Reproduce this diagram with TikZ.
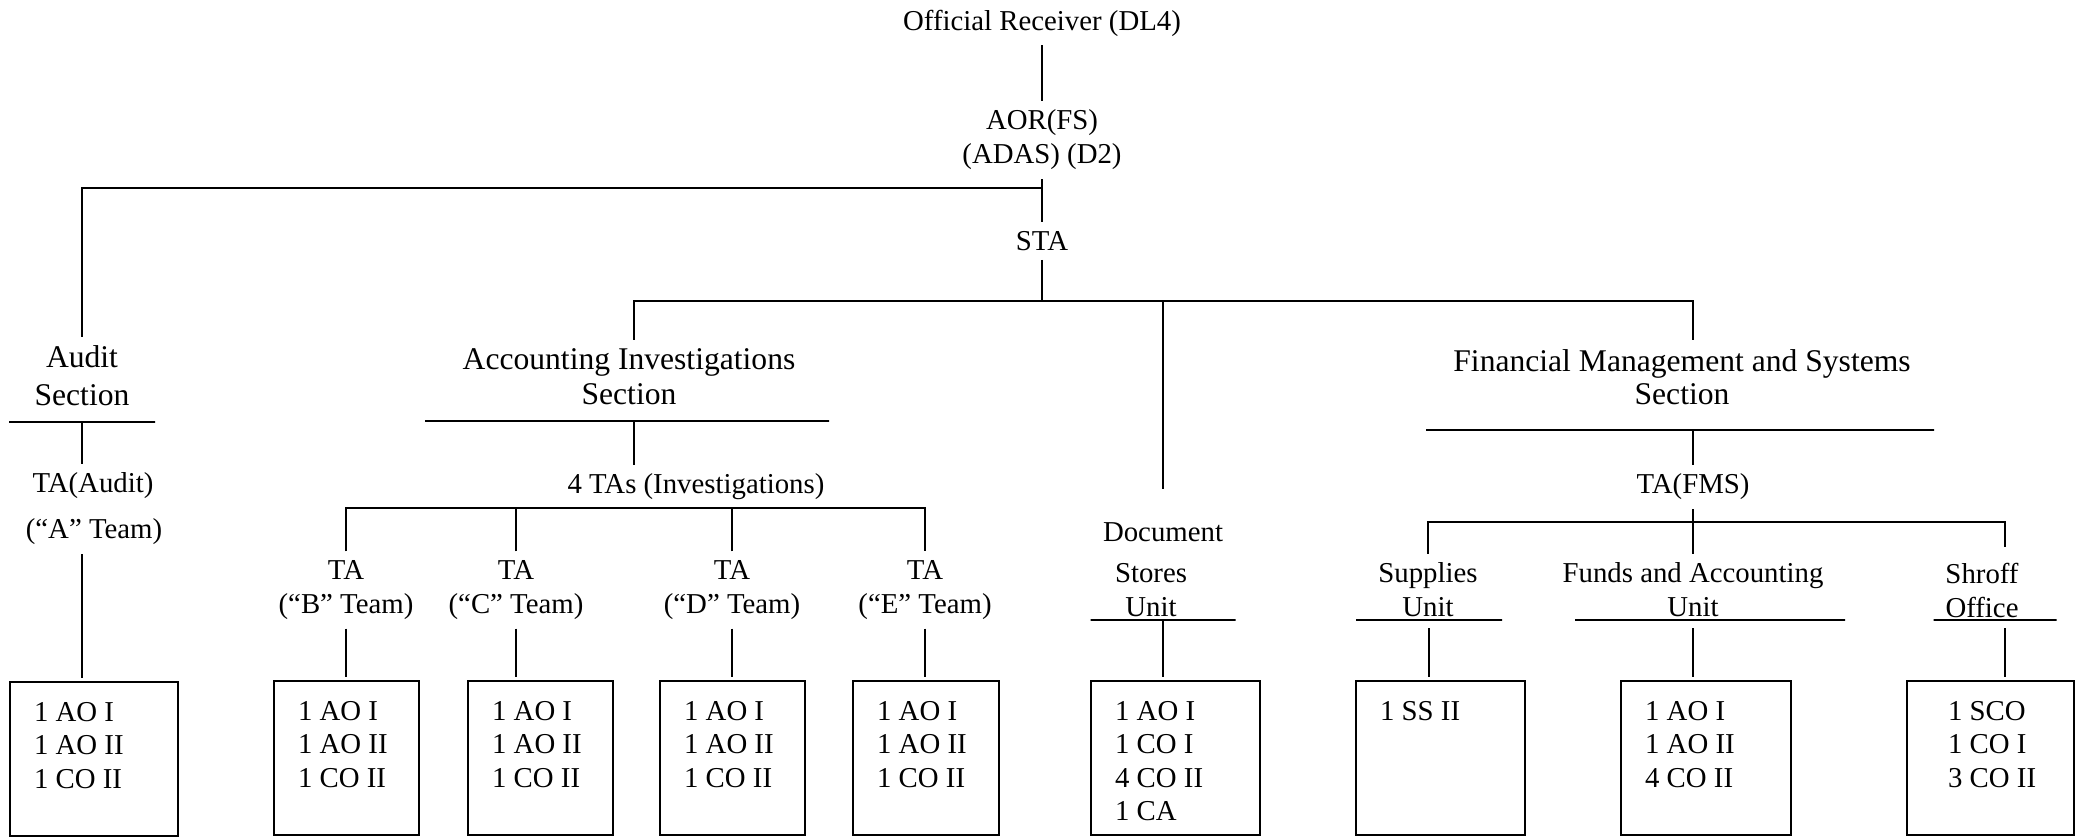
\documentclass[tikz,border=0pt]{standalone}
\usepackage{fontspec}
\setmainfont{Liberation Serif}
\usetikzlibrary{positioning}

\begin{document}
\begin{tikzpicture}[x=0.5pt,y=-0.5pt,line width=1.1pt,
  lbl/.style={font=\fontsize{14.4}{17}\selectfont,align=center,inner xsep=0pt,inner ysep=4pt},
  sect/.style={lbl,font=\fontsize{15.8}{17.5}\selectfont},
  rule/.style={draw,minimum width=#1*0.5pt,minimum height=0pt,inner sep=0pt,outer sep=0pt},
  staffbox/.style={draw,anchor=north west,minimum width=#1*0.5pt,minimum height=77pt,inner sep=0pt,outer sep=0pt},
  staff/.style={font=\fontsize{14.4}{16.8}\selectfont,align=left,anchor=north west,inner sep=0pt,xshift=#1,yshift=-9.5pt},
  staff/.default=11.5pt,
  tobox/.style={shorten >=2pt}]
  \useasboundingbox (0,0) rectangle (2080,837);

  % top of the chart
  \node[lbl] (or)  at (1042,23)  {Official Receiver (DL4)};
  \node[lbl] (aor) at (1042,140) {AOR(FS)\\(ADAS) (D2)};
  \node[lbl] (sta) at (1042,241) {STA};
  \coordinate (jau)  at (1042,188);
  \coordinate (jsec) at (1042,301);
  \coordinate (jais) at (634,301);
  \coordinate (jdoc) at (1163,301);
  \coordinate (jfms) at (1693,301);

  % audit
  \node[sect,font=\fontsize{15.8}{19}\selectfont] (audit) at (82,376) {Audit\\Section};
  \node[rule=146] (aubar) at (82,422) {};
  \node[lbl] (taau)  at (93,486) {TA(Audit)};
  \node[lbl] (teamA) at (94,532) {(“A” Team)};
  \node[staffbox=168] (bA) at (10,682) {};
  \node[staff] at (bA.north west) {1 AO I\\1 AO II\\1 CO II};

  % accounting investigations
  \node[sect] (ais) at (629,377) {Accounting Investigations\\Section};
  \node[rule=404] (aisbar) at (627,421) {};
  \node[lbl] (ta4) at (696,487) {4 TAs (Investigations)};
  \coordinate (jinv) at (634,508);
  \node[lbl] (tB) at (346,590) {TA\\(“B” Team)};
  \node[lbl] (tC) at (516,590) {TA\\(“C” Team)};
  \node[lbl] (tD) at (732,590) {TA\\(“D” Team)};
  \node[lbl] (tE) at (925,590) {TA\\(“E” Team)};
  \node[staffbox=145] (bB) at (274,681) {};
  \node[staffbox=145] (bC) at (468,681) {};
  \node[staffbox=145] (bD) at (660,681) {};
  \node[staffbox=146] (bE) at (853,681) {};
  \node[staff] at (bB.north west) {1 AO I\\1 AO II\\1 CO II};
  \node[staff] at (bC.north west) {1 AO I\\1 AO II\\1 CO II};
  \node[staff] at (bD.north west) {1 AO I\\1 AO II\\1 CO II};
  \node[staff] at (bE.north west) {1 AO I\\1 AO II\\1 CO II};

  % document stores
  \node[lbl] (doc)    at (1163,532) {Document};
  \node[lbl] (stores) at (1151,590) {Stores\\Unit};
  \node[rule=145] (docbar) at (1163,620) {};
  \node[staffbox=169] (bDoc) at (1091,681) {};
  \node[staff] at (bDoc.north west) {1 AO I\\1 CO I\\4 CO II\\1 CA};

  % financial management and systems
  \node[sect,font=\fontsize{15.8}{16.5}\selectfont] (fms) at (1682,377) {Financial Management and Systems\\Section};
  \node[rule=508] (fmsbar) at (1680,430) {};
  \node[lbl] (tafms) at (1693,487) {TA(FMS)};
  \coordinate (junit) at (1693,522);
  \coordinate (dshr)  at (2005,547);
  \node[lbl] (sup)  at (1428,590) {Supplies\\Unit};
  \node[lbl] (fund) at (1693,590) {Funds and Accounting\\Unit};
  \node[lbl] (shr)  at (1982,590) {Shroff\\Office};
  \node[rule=146] (supbar)  at (1429,620) {};
  \node[rule=270] (fundbar) at (1710,620) {};
  \node[rule=123] (shrbar)  at (1995,620) {};
  \node[staffbox=169] (bSup)  at (1356,681) {};
  \node[staffbox=170] (bFund) at (1621,681) {};
  \node[staffbox=167] (bShr)  at (1907,681) {};
  \node[staff] at (bSup.north west) {1 SS II};
  \node[staff] at (bFund.north west) {1 AO I\\1 AO II\\4 CO II};
  \node[staff=20pt] at (bShr.north west) {1 SCO\\1 CO I\\3 CO II};

  % connectors
  \draw (or) -- (aor);
  \draw (aor) -- (sta);
  \draw (jau) -| (audit);
  \draw (sta) -- (jsec);
  \draw (jais |- ais.north) -- (jais) -- (jfms) -- (jfms |- fms.north);
  \draw[shorten >=12pt] (jdoc) -- (doc);
  \draw (aubar) -- (aubar |- taau.north);
  \draw[tobox] (aubar |- teamA.south) -- (aubar |- bA.north);
  \draw (jais |- aisbar) -- (jais |- ta4.north);
  \draw (tB.north) |- (jinv) -| (tE.north);
  \draw (tC.north) -- (tC |- jinv);
  \draw (tD.north) -- (tD |- jinv);
  \draw[tobox] (tB) -- (tB |- bB.north);
  \draw[tobox] (tC) -- (tC |- bC.north);
  \draw[tobox] (tD) -- (tD |- bD.north);
  \draw[tobox] (tE) -- (tE |- bE.north);
  \draw[tobox] (docbar) -- (docbar |- bDoc.north);
  \draw (jfms |- fmsbar) -- (tafms);
  \draw (tafms) -- (fund);
  \draw (sup.north) |- (junit) -| (dshr);
  \draw[tobox,shorten <=4pt] (supbar) -- (supbar |- bSup.north);
  \draw[tobox,shorten <=4pt] (fund |- fundbar) -- (fund |- bFund.north);
  \draw[tobox,shorten <=4pt] (dshr |- shrbar) -- (dshr |- bShr.north);
\end{tikzpicture}
\end{document}
